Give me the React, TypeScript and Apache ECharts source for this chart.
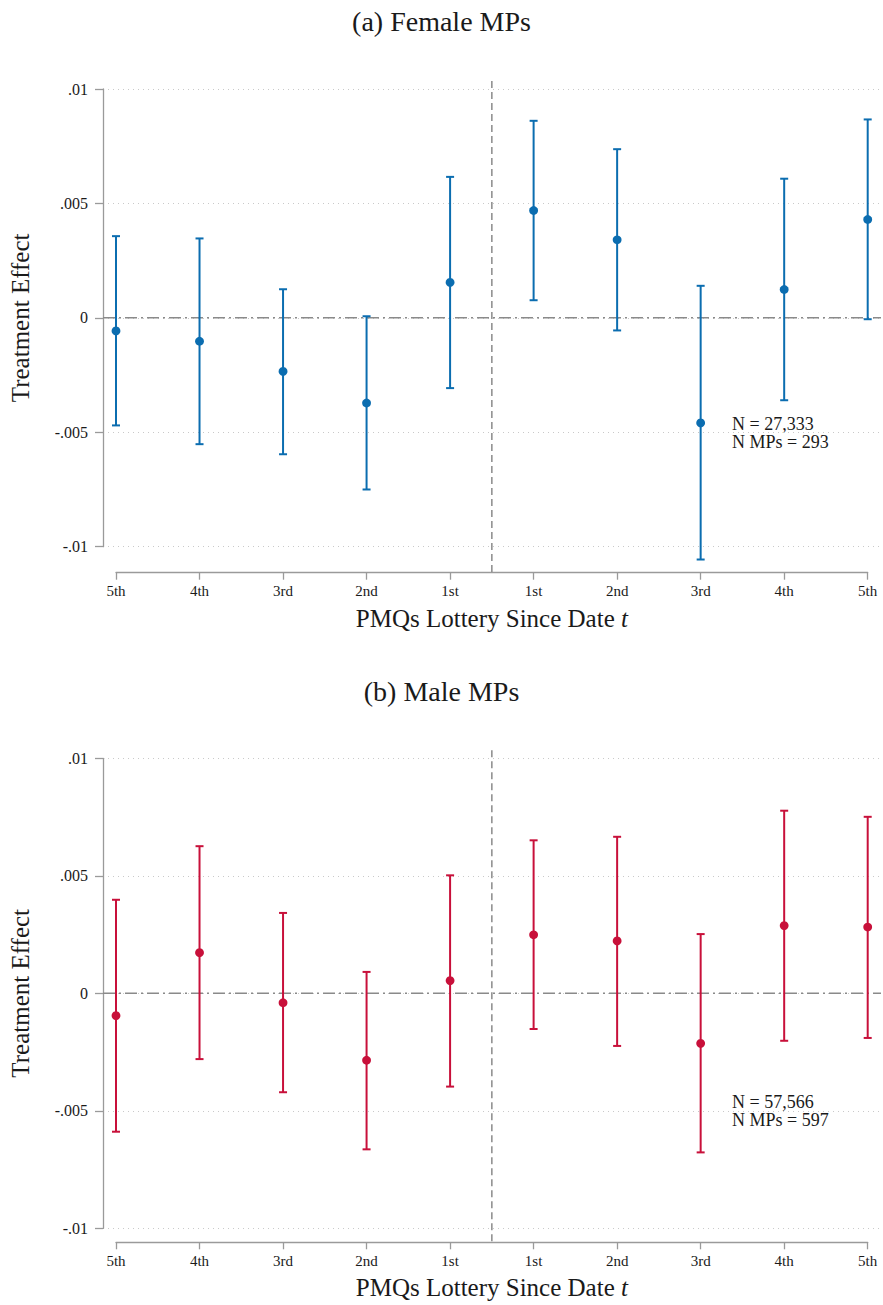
import React, { useEffect, useRef } from "react";
import * as echarts from "echarts";

// Lottery rounds before (left) and after (right) date t
const lotteryLabels = ["5th", "4th", "3rd", "2nd", "1st", "1st", "2nd", "3rd", "4th", "5th"];

// Female MPs: point estimates and 95% confidence bounds
const femaleEstimate = [-0.00057, -0.00102, -0.00234, -0.00372, 0.00155, 0.00469, 0.00341, -0.00459, 0.00124, 0.0043];
const femaleLower = [-0.0047, -0.00552, -0.00596, -0.0075, -0.00307, 0.00077, -0.00055, -0.01056, -0.0036, -0.00006];
const femaleUpper = [0.00357, 0.00347, 0.00125, 0.00007, 0.00616, 0.00861, 0.00737, 0.0014, 0.00608, 0.00867];

// Male MPs: point estimates and 95% confidence bounds
const maleEstimate = [-0.00095, 0.00173, -0.0004, -0.00285, 0.00054, 0.00249, 0.00223, -0.00213, 0.00288, 0.00282];
const maleLower = [-0.00589, -0.0028, -0.00421, -0.00664, -0.00397, -0.00152, -0.00224, -0.00677, -0.00202, -0.0019];
const maleUpper = [0.00398, 0.00626, 0.00342, 0.00091, 0.00502, 0.00651, 0.00666, 0.00252, 0.00777, 0.00751];

const yTicks = [-0.01, -0.005, 0, 0.005, 0.01];
const cutoffPosition = 4.5;

const panelTitles = ["(a) Female MPs", "(b) Male MPs"];
const panelNotes = ["N = 27,333\nN MPs = 293", "N = 57,566\nN MPs = 597"];

const FONT = '"Liberation Serif", "Times New Roman", serif';
const INK = "#1a1a1a";
const AXIS_GRAY = "#9a9a9a";
const REF_GRAY = "#8a8a8a";

// pixel layout of the two panels
const PLOT_LEFT = 103;
const PLOT_RIGHT = 881;
const CAT_LEFT = 116;
const CAT_RIGHT = 867.7;
const CAT_STEP = (CAT_RIGHT - CAT_LEFT) / 9;

const panels = [
  {
    title: panelTitles[0],
    note: panelNotes[0],
    color: "#0b6db0",
    est: femaleEstimate,
    lo: femaleLower,
    hi: femaleUpper,
    titleTop: 2,
    plotTop: 89,
    plotHeight: 457.7,
    axisLineY: 572.7,
    noteX: 732,
    noteY: 415,
  },
  {
    title: panelTitles[1],
    note: panelNotes[1],
    color: "#c8103a",
    est: maleEstimate,
    lo: maleLower,
    hi: maleUpper,
    titleTop: 672,
    plotTop: 758.3,
    plotHeight: 470,
    axisLineY: 1242.3,
    noteX: 732,
    noteY: 1093,
  },
];

const xMin = -(CAT_LEFT - PLOT_LEFT) / CAT_STEP;
const xMax = (PLOT_RIGHT - CAT_LEFT) / CAT_STEP;

function formatTick(v: number): string {
  if (Math.abs(v) < 1e-12) return "0";
  const s = parseFloat(Math.abs(v).toFixed(4)).toString().replace(/^0\./, ".");
  return (v < 0 ? "-" : "") + s;
}

function buildOption() {
  const grid: any[] = [];
  const xAxis: any[] = [];
  const yAxis: any[] = [];
  const series: any[] = [];
  const title: any[] = [];
  const graphic: any[] = [];

  panels.forEach((p, k) => {
    const plotIdx = 2 * k;
    const axisIdx = 2 * k + 1;
    const bottomGap = p.axisLineY - (p.plotTop + p.plotHeight);

    title.push({
      text: p.title,
      left: "center",
      top: p.titleTop,
      textStyle: { fontFamily: FONT, fontSize: 28, fontWeight: "normal", color: INK },
    });

    // plotting region
    grid.push({ left: PLOT_LEFT, top: p.plotTop, width: PLOT_RIGHT - PLOT_LEFT, height: p.plotHeight });
    // detached category axis below the plotting region
    grid.push({ left: CAT_LEFT, top: p.axisLineY - 10, width: CAT_RIGHT - CAT_LEFT, height: 10 });

    xAxis.push({
      gridIndex: plotIdx,
      type: "value",
      min: xMin,
      max: xMax,
      show: false,
    });
    xAxis.push({
      gridIndex: axisIdx,
      type: "value",
      min: 0,
      max: lotteryLabels.length - 1,
      interval: 1,
      axisLine: { show: true, onZero: false, lineStyle: { color: AXIS_GRAY, width: 1.3 } },
      axisTick: { show: true, length: 7, lineStyle: { color: AXIS_GRAY, width: 1.3 } },
      axisLabel: {
        margin: 11,
        fontFamily: FONT,
        fontSize: 15,
        color: INK,
        formatter: (v: number) => lotteryLabels[Math.round(v)] ?? "",
      },
      splitLine: { show: false },
      name: "{a|PMQs Lottery Since Date }{i|t}",
      nameLocation: "middle",
      nameGap: 33,
      nameTextStyle: {
        rich: {
          a: { fontFamily: FONT, fontSize: 25, color: INK },
          i: { fontFamily: FONT, fontSize: 25, color: INK, fontStyle: "italic" },
        },
      },
    });

    yAxis.push({
      gridIndex: plotIdx,
      type: "value",
      min: yTicks[0],
      max: yTicks[yTicks.length - 1],
      interval: 0.005,
      axisLine: { show: true, onZero: false, lineStyle: { color: AXIS_GRAY, width: 1.3 } },
      axisTick: { show: true, length: 8, lineStyle: { color: AXIS_GRAY, width: 1.3 } },
      axisLabel: { margin: 15, fontFamily: FONT, fontSize: 16, color: INK, formatter: formatTick },
      splitLine: { show: true, lineStyle: { color: "#c9c9c9", width: 1, type: [1, 4] } },
      name: "Treatment Effect",
      nameLocation: "middle",
      nameGap: 70,
      nameTextStyle: { fontFamily: FONT, fontSize: 25, color: INK },
    });
    yAxis.push({ gridIndex: axisIdx, type: "value", show: false, min: 0, max: 1 });

    // zero reference line
    series.push({
      type: "line",
      xAxisIndex: plotIdx,
      yAxisIndex: plotIdx,
      data: [
        [xMin, 0],
        [xMax, 0],
      ],
      symbol: "none",
      silent: true,
      z: 1,
      lineStyle: { color: REF_GRAY, width: 1.5, type: [12, 4, 2, 4] },
    });

    // vertical separator at date t
    series.push({
      type: "custom",
      xAxisIndex: plotIdx,
      yAxisIndex: plotIdx,
      data: [[cutoffPosition, 0]],
      silent: true,
      clip: false,
      z: 1,
      renderItem: (params: any, api: any) => {
        const cs = params.coordSys;
        const x = api.coord([api.value(0), 0])[0];
        return {
          type: "line",
          shape: { x1: x, y1: cs.y - 8, x2: x, y2: cs.y + cs.height + bottomGap },
          style: { stroke: REF_GRAY, lineWidth: 1.5, lineDash: [7, 4] },
        };
      },
    });

    // confidence intervals with point estimates
    const rows = p.est.map((e, i) => [i, e, p.lo[i], p.hi[i]]);
    series.push({
      type: "custom",
      xAxisIndex: plotIdx,
      yAxisIndex: plotIdx,
      data: rows,
      clip: false,
      z: 3,
      encode: { x: 0, y: [1, 2, 3] },
      renderItem: (params: any, api: any) => {
        const pt = api.coord([api.value(0), api.value(1)]);
        const lo = api.coord([api.value(0), api.value(2)]);
        const hi = api.coord([api.value(0), api.value(3)]);
        const cap = 4;
        const stroke = { stroke: p.color, lineWidth: 2 };
        return {
          type: "group",
          children: [
            { type: "line", shape: { x1: lo[0], y1: lo[1], x2: hi[0], y2: hi[1] }, style: stroke },
            { type: "line", shape: { x1: hi[0] - cap, y1: hi[1], x2: hi[0] + cap, y2: hi[1] }, style: stroke },
            { type: "line", shape: { x1: lo[0] - cap, y1: lo[1], x2: lo[0] + cap, y2: lo[1] }, style: stroke },
            { type: "circle", shape: { cx: pt[0], cy: pt[1], r: 4.4 }, style: { fill: p.color } },
          ],
        };
      },
    });

    graphic.push({
      type: "text",
      x: p.noteX,
      y: p.noteY,
      style: {
        text: p.note,
        fontFamily: FONT,
        fontSize: 18,
        lineHeight: 18,
        fill: INK,
      },
    });
  });

  return {
    animation: false,
    backgroundColor: "#ffffff",
    title,
    grid,
    xAxis,
    yAxis,
    series,
    graphic,
  };
}

export default function App() {
  const ref = useRef<HTMLDivElement>(null);

  useEffect(() => {
    if (!ref.current) return;
    const chart = echarts.init(ref.current, null, { renderer: "svg" });
    chart.setOption(buildOption());
    return () => chart.dispose();
  }, []);

  return (
    <div
      ref={ref}
      style={{ position: "absolute", left: 0, top: 0, width: 883, height: 1305, background: "#fff" }}
    />
  );
}
